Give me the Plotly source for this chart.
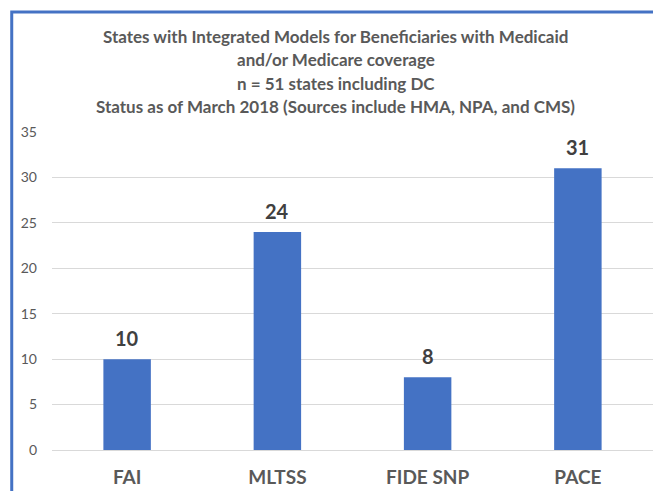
import plotly.graph_objects as go

categories = ["FAI", "MLTSS", "FIDE SNP", "PACE"]
values = [10, 24, 8, 31]
y_ticks = [0, 5, 10, 15, 20, 25, 30, 35]
title_lines = [
    "States with Integrated Models for Beneficiaries with Medicaid",
    "and/or Medicare coverage",
    "n = 51 states including DC",
    "Status as of March 2018 (Sources include HMA, NPA, and CMS)",
]

FONT = "Lato"
BLUE = "#4472C4"
GREY = "#595959"

fig = go.Figure()
fig.add_trace(go.Bar(
    x=categories, y=values,
    marker=dict(color=BLUE, line=dict(width=0)),
    hoverinfo="x+y",
))

annotations = []
for c, v in zip(categories, values):
    annotations.append(dict(
        x=c, y=v, xref="x", yref="y", text=f"<b>{v}</b>", showarrow=False,
        yanchor="bottom", yshift=7,
        font=dict(family=FONT, size=20, color="#404040"),
    ))

title_y = [1.2990, 1.2265, 1.1525, 1.0796]
for line, yy in zip(title_lines, title_y):
    annotations.append(dict(
        x=0.4725, y=yy, xref="paper", yref="paper", text=f"<b>{line}</b>",
        showarrow=False, xanchor="center", yanchor="middle",
        font=dict(family=FONT, size=17, color=GREY),
    ))

fig.update_layout(
    width=653, height=483,
    margin=dict(l=44, r=8, t=124, b=41),
    paper_bgcolor="white", plot_bgcolor="white",
    bargap=0.684,
    showlegend=False,
    annotations=annotations,
    shapes=[dict(
        type="rect", xref="paper", yref="paper",
        x0=-0.067, x1=1.2, y0=-0.5, y1=1.3775,
        line=dict(color=BLUE, width=3), fillcolor="rgba(0,0,0,0)", layer="above",
    )],
    xaxis=dict(
        showgrid=False, showline=False, zeroline=False,
        tickfont=dict(family=FONT, size=19, color=GREY),
        tickprefix="<b>", ticksuffix="</b>",
        ticklabelstandoff=14, automargin=False,
    ),
    yaxis=dict(
        range=[0, 35], tickvals=y_ticks,
        showgrid=True, gridcolor="#D9D9D9", gridwidth=1,
        zeroline=True, zerolinecolor="#D9D9D9", zerolinewidth=1,
        showline=False,
        tickfont=dict(family=FONT, size=14, color=GREY),
        ticklabelstandoff=14, automargin=False,
    ),
)

fig.write_html("out.html")
